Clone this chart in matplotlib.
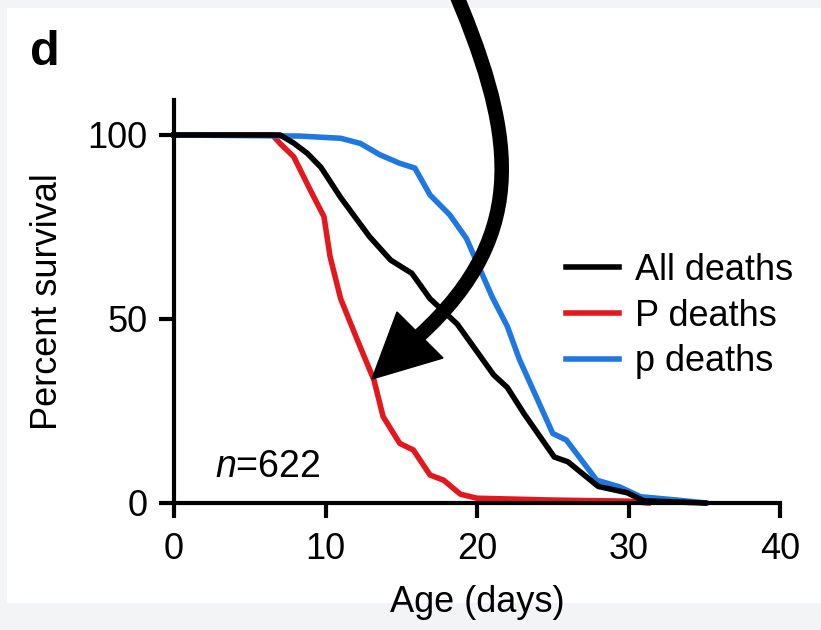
import numpy as np
import matplotlib
matplotlib.use('Agg')
from matplotlib import pyplot as plt
from matplotlib.path import Path
from matplotlib.patches import PathPatch, Polygon, Rectangle
from matplotlib.transforms import Affine2D

plt.rcParams['font.family'] = ['Liberation Sans', 'DejaVu Sans']
plt.rcParams['mathtext.fontset'] = 'custom'
plt.rcParams['mathtext.rm'] = 'Liberation Sans'
plt.rcParams['mathtext.it'] = 'Liberation Sans:italic'

# %% survival curves (age in days, percent surviving)
days_all = [0, 7.0, 7.9, 8.8, 9.7, 11.0, 12.9, 14.3, 15.7, 16.9, 18.7, 21.1, 22.0, 23.1,
            24.2, 25.1, 26.0, 28.0, 29.9, 31.0, 33.0, 35.0]
surv_all = [100, 100, 97.8, 95, 91.2, 83, 72.4, 66, 62.4, 55.5, 48.6, 34.8, 31.4, 24.3,
            17.8, 12.5, 11.2, 4.5, 2.8, 0.6, 0.3, 0]

days_P = [0, 6.5, 7.0, 7.9, 9.0, 9.9, 10.3, 11.0, 12.1, 13.2, 13.8, 14.9, 15.8, 16.9,
          17.8, 18.9, 20.0, 25.0, 30.0, 31.3]
surv_P = [100, 100, 97.7, 94.1, 85, 77.8, 67, 55.5, 44.3, 33.4, 23.5, 16.2, 14.4, 7.6,
          6.2, 2.4, 1.3, 0.8, 0.5, 0]

days_p = [0, 8.3, 11.0, 12.3, 13.6, 14.9, 15.9, 16.9, 18.2, 19.3, 20.2, 21.0, 22.0, 22.8,
          25.0, 25.9, 27.9, 29.4, 30.8, 33.2, 35.1]
surv_p = [100, 99.7, 99.1, 97.7, 94.6, 92.3, 91, 83.7, 78.3, 71.9, 63.5, 56, 48, 39,
          18.9, 17.1, 6.2, 4.4, 1.7, 0.8, 0]

labels = ['All deaths', 'P deaths', 'p deaths']
colors = ['black', '#e3181c', '#1f78e0']
n_total = 622

# %%
fig = plt.figure(figsize=(8.21, 6.3), dpi=100, facecolor='#f3f4f6')
# transform in image pixels (origin top-left) for the decorations
px = Affine2D().scale(1/821, -1/630).translate(0, 1) + fig.transFigure
fig.patches.append(Rectangle((7, 8), 830, 595, transform=px, facecolor='white',
                             edgecolor='none', zorder=-10))

ax = fig.add_axes([174/821, 1-503/630, 606/821, 403/630])
ax.set_facecolor('none')

for d, s, lab, c in zip([days_all, days_P, days_p], [surv_all, surv_P, surv_p], labels, colors):
    ax.plot(d, s, color=c, lw=4, label=lab, solid_joinstyle='round', clip_on=False)
# black on top like the original
ax.lines[0].set_zorder(3)

ax.set_xlim(0, 40)
ax.set_ylim(0, 109.5)
ax.set_xticks([0, 10, 20, 30, 40])
ax.set_yticks([0, 50, 100])
for sp in ['top', 'right']:
    ax.spines[sp].set_visible(False)
for sp in ['left', 'bottom']:
    ax.spines[sp].set_linewidth(3)
ax.tick_params(direction='out', length=11, width=3, labelsize=26, pad=8)
ax.tick_params(axis='x', pad=10)

ax.set_xlabel('Age (days)', fontsize=26, labelpad=13)
ax.set_ylabel('Percent survival', fontsize=26, labelpad=16)

ax.text(2.7, 7.1, '$n$=%d' % n_total, fontsize=27, va='baseline', ha='left')

leg = ax.legend(loc='center left', bbox_to_anchor=(25.9, 50.8), bbox_transform=ax.transData,
                frameon=False, fontsize=26, handlelength=1.45, handletextpad=0.45,
                labelspacing=0.3, borderpad=0, borderaxespad=0)

fig.text(30/821, 1-65/630, 'd', fontsize=35, fontweight='bold', va='baseline')

# big curved arrow
verts = [(450, -20), (515, 130), (533, 232), (419, 336)]
codes = [Path.MOVETO, Path.CURVE4, Path.CURVE4, Path.CURVE4]
shaft = PathPatch(Path(verts, codes), transform=px, facecolor='none', edgecolor='black',
                  lw=10.5, capstyle='butt', zorder=10)
fig.patches.append(shaft)
head = Polygon([(372, 379), (397, 312), (443, 358)], closed=True, transform=px,
               facecolor='black', edgecolor='black', lw=1, zorder=11)
fig.patches.append(head)

plt.savefig('out.png', dpi=100, facecolor=fig.get_facecolor())
